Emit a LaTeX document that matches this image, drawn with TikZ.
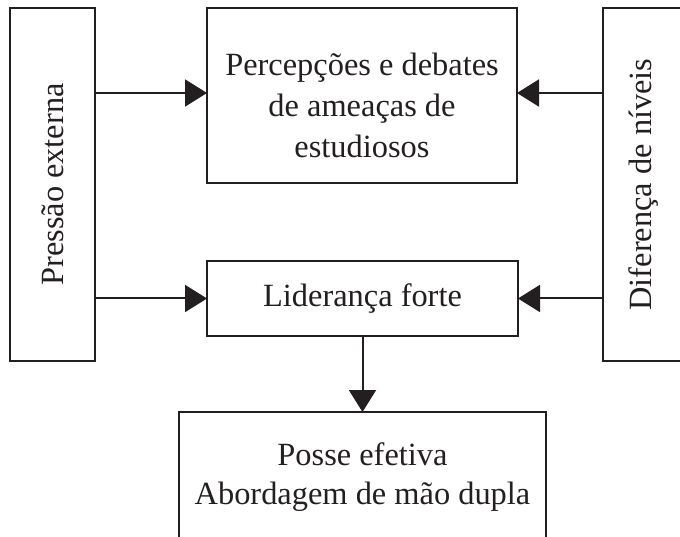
\documentclass[tikz,border=0pt]{standalone}
\usepackage{fontspec}
\setmainfont{Liberation Serif}
\usetikzlibrary{arrows.meta}
\definecolor{ink}{HTML}{231F20}
\tikzset{
  box/.style={draw=ink, line width=2pt, rectangle, inner sep=0pt, outer sep=0pt},
  txt/.style={text=ink, align=center, inner sep=0pt, font=\fontsize{32.4}{41}\selectfont},
  arr/.style={draw=ink, line width=2pt, -{Triangle[length=22pt,width=27pt]}}
}
\begin{document}
\begin{tikzpicture}[x=1pt,y=-1pt]
\useasboundingbox (0,0) rectangle (680,537);
\clip (0,0) rectangle (680,537);
% side boxes
\node[box, txt, minimum width=85pt, minimum height=353pt] (left) at (52.5,184.5) {\rotatebox{90}{Pressão externa}};
\node[box, txt, minimum width=82pt, minimum height=353pt] (right) at (644,184.5) {\rotatebox{90}{Diferença de níveis}};
% top box
\node[box, minimum width=310pt, minimum height=175pt] (perc) at (362,95.5) {};
\node[txt] (perctext) at (362,105) {Percepções e debates\\de ameaças de\\estudiosos};
% middle box
\node[box, txt, minimum width=311pt, minimum height=75pt] (lead) at (362.5,298.5) {Liderança forte};
% bottom box
\node[box, minimum width=367pt, minimum height=160pt] (posse) at (362.5,492) {};
\node[txt, font=\fontsize{32.4}{39}\selectfont] (possetext) at (362.5,477) {Posse efetiva\\Abordagem de mão dupla};
% arrows
\coordinate (pinL) at ([yshift=2.5pt]perc.west);
\coordinate (pinR) at ([yshift=2.5pt]perc.east);
\draw[arr] (left.east |- pinL) -- (pinL);
\draw[arr] (right.west |- pinR) -- (pinR);
\draw[arr] (left.east |- lead.west) -- (lead.west);
\draw[arr] (right.west |- lead.east) -- (lead.east);
\draw[arr] (lead.south) -- (posse.north);
\end{tikzpicture}
\end{document}
